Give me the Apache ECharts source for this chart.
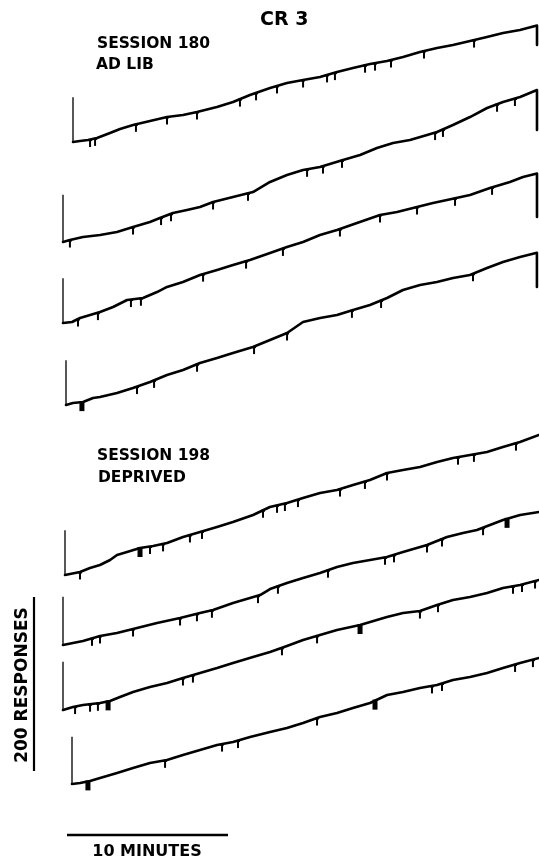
<!DOCTYPE html>
<html><head><meta charset="utf-8">
<script src="https://cdn.jsdelivr.net/npm/echarts@6/dist/echarts.min.js"></script>
<style>html,body{margin:0;padding:0;background:#fff}#c{width:539px;height:863px}</style>
</head><body><div id="c"></div>
<script>
// ---- DATA: cumulative records, [minutes, cumulative responses] ----
const curve1 = [[0,0],[0.43,1.2],[0.93,2.3],[1.49,4.7],[2.30,10.5],[2.92,15.1],[3.73,19.8],[4.78,24.4],[5.84,29.1],[6.83,31.4],[7.70,34.9],[8.94,40.7],[9.94,46.5],[10.99,54.7],[12.24,62.8],[13.29,68.6],[14.29,72.1],[15.34,75.6],[16.40,81.4],[17.39,86.0],[18.45,90.7],[19.50,94.2],[20.50,98.8],[21.55,104.7],[22.61,109.3],[23.60,112.8],[24.66,117.4],[25.71,122.1],[26.71,126.7],[27.76,130.2],[28.82,135.5],[28.82,112.8]];
const curve2 = [[0,0],[0.43,2.3],[1.24,5.8],[2.30,8.1],[3.35,11.6],[4.35,17.4],[5.40,23.3],[6.02,27.9],[6.83,33.7],[7.70,37.2],[8.51,40.7],[9.32,46.5],[10.56,52.3],[11.80,58.1],[12.86,69.8],[13.91,77.9],[14.91,83.7],[15.96,87.2],[17.39,95.3],[18.45,101.2],[19.50,109.3],[20.50,115.1],[21.55,118.6],[22.61,124.4],[23.23,127.9],[24.22,136.0],[25.28,145.3],[26.34,155.8],[27.33,162.8],[28.39,168.6],[29.44,176.7],[29.44,130.2]];
const curve3 = [[0,0],[0.56,1.2],[1.06,5.8],[1.68,9.3],[2.30,12.8],[3.11,18.6],[3.98,26.7],[4.97,29.1],[5.84,36.0],[6.46,41.9],[7.45,47.7],[8.51,55.8],[9.57,61.6],[10.56,67.4],[11.61,73.3],[12.86,81.4],[13.91,88.4],[14.91,94.2],[15.96,102.3],[17.02,108.1],[18.26,116.3],[19.69,125.6],[20.75,129.1],[21.74,133.7],[22.98,139.5],[23.85,143.0],[25.28,148.8],[26.52,157.0],[27.76,164.0],[28.57,169.8],[29.44,173.8],[29.44,123.3]];
const curve4 = [[0,0],[0.43,2.3],[1.06,3.5],[1.68,8.1],[2.11,9.3],[3.17,14.0],[4.16,19.8],[5.22,26.7],[6.27,34.9],[7.27,40.7],[8.32,48.8],[9.38,54.7],[10.37,60.5],[11.61,67.4],[12.67,75.6],[13.73,83.7],[14.72,96.5],[15.78,101.2],[16.83,104.7],[17.83,110.5],[18.88,116.3],[19.94,124.4],[20.93,133.7],[21.99,139.5],[23.04,143.0],[24.04,147.7],[25.09,151.2],[26.15,159.3],[27.14,166.3],[28.20,172.1],[29.25,177.0],[29.25,137.2]];
const curve5 = [[0,0],[0.12,1.2],[0.93,3.5],[1.55,8.1],[2.17,11.6],[2.80,17.4],[3.23,23.3],[3.85,26.7],[4.66,31.4],[5.47,33.7],[6.34,37.2],[7.33,44.2],[8.39,50.0],[9.44,55.8],[10.43,61.6],[11.68,69.8],[12.73,79.1],[13.79,83.7],[14.78,89.5],[15.84,95.3],[16.89,98.8],[17.89,104.7],[18.94,110.5],[20.00,118.6],[20.99,122.1],[22.05,125.6],[23.11,131.4],[24.10,136.0],[25.16,139.5],[26.21,143.0],[27.20,148.8],[28.26,154.7],[29.44,162.8]];
const curve6 = [[0,0],[0.62,2.3],[1.24,4.7],[2.30,10.5],[3.35,14.0],[4.35,18.6],[5.84,25.6],[7.27,31.4],[8.51,37.2],[9.32,40.7],[10.56,48.8],[12.24,58.1],[12.86,65.1],[13.91,72.1],[14.91,77.9],[15.96,83.7],[17.02,90.7],[18.01,95.3],[19.07,98.8],[20.12,102.3],[21.12,108.1],[22.61,116.3],[23.85,125.6],[24.84,130.2],[25.71,133.7],[26.52,139.5],[27.33,145.3],[28.39,151.2],[29.57,154.7]];
const curve7 = [[0,0],[0.62,3.5],[1.24,5.8],[2.30,8.1],[2.92,10.5],[3.54,15.1],[4.35,20.9],[5.40,26.7],[6.46,31.4],[7.45,37.2],[8.51,43.0],[9.57,48.8],[10.56,54.7],[11.80,61.6],[12.86,67.4],[13.91,74.4],[14.91,81.4],[15.96,87.2],[17.02,93.0],[18.45,98.8],[20.12,108.1],[21.12,112.8],[22.17,115.1],[23.23,122.1],[24.22,127.9],[25.28,131.4],[26.34,136.0],[27.33,141.9],[28.39,145.3],[29.57,151.2]];
const curve8 = [[0,0],[0.50,1.2],[1.12,3.5],[1.74,7.0],[2.80,12.8],[3.79,18.6],[4.84,24.4],[5.90,27.9],[6.89,33.7],[7.95,39.5],[9.01,45.3],[10.00,48.8],[11.06,54.7],[12.30,60.5],[13.35,65.1],[14.35,70.9],[15.40,77.9],[16.46,82.6],[17.45,88.4],[18.51,94.2],[19.57,103.5],[20.56,107.0],[21.61,111.6],[22.67,115.1],[23.66,120.9],[24.72,124.4],[25.78,129.1],[26.77,134.9],[27.83,140.7],[29.01,146.5]];

// reinforcement pips (minutes) and dense pip clusters (minutes)
const pips1 = [1.06,1.37,3.91,5.84,7.70,10.37,11.37,12.67,14.29,15.78,16.27,18.14,18.76,19.75,21.80,24.91];
const pips2 = [0.43,4.35,6.09,6.71,9.32,11.49,15.16,16.15,17.33,23.11,23.60,26.96,28.07];
const pips3 = [0.93,2.17,4.22,4.84,8.70,11.37,13.66,17.20,19.69,21.99,24.35,26.65];
const pips4 = [4.41,5.47,8.14,11.68,13.73,17.76,19.57,25.28];
const pips5 = [0.93,5.28,6.09,7.76,8.51,12.30,13.17,13.66,14.47,17.08,18.63,20.00,24.41,25.40,28.01];
const pips6 = [1.80,2.30,4.35,7.27,8.32,9.25,12.11,13.35,16.46,20.00,20.56,22.61,23.54,26.09];
const pips7 = [0.75,1.68,2.17,7.45,8.07,13.60,15.78,22.17,23.29,27.95,28.51,29.32];
const pips8 = [5.78,9.32,10.31,15.22,22.36,22.98,27.52,28.63];
const blocks1 = [];
const blocks2 = [];
const blocks3 = [];
const blocks4 = [0.99];
const blocks5 = [4.66];
const blocks6 = [27.58];
const blocks7 = [2.80,18.45];
const blocks8 = [0.99,18.82];

// height of the pen-reset stroke at the start of each record (responses)
const resetHeights = [52,55,52,52,52,56,56,55];

// ---- LAYOUT (pixel origin of each record) ----
const origins = [[73,142],[63,242],[63,323],[66,405],[65,575],[63,645],[63,710],[72,784]];
const X_MAX = 30, Y_MAX = 200, GRID_W = 483, GRID_H = 172;

const curves = [curve1,curve2,curve3,curve4,curve5,curve6,curve7,curve8];
const pips = [pips1,pips2,pips3,pips4,pips5,pips6,pips7,pips8];
const blocks = [blocks1,blocks2,blocks3,blocks4,blocks5,blocks6,blocks7,blocks8];

function onCurve(c, t){
  for (let k=0;k<c.length-1;k++){
    const a=c[k], b=c[k+1];
    if (b[0]>a[0] && t>=a[0] && t<=b[0]) return a[1]+(b[1]-a[1])*(t-a[0])/(b[0]-a[0]);
  }
  return c[c.length-1][1];
}

const grid=[], xAxis=[], yAxis=[], series=[];
curves.forEach((c,i)=>{
  grid.push({left:origins[i][0], top:origins[i][1]-GRID_H, width:GRID_W, height:GRID_H, outerBoundsMode:'none', containLabel:false});
  xAxis.push({type:'value', gridIndex:i, min:0, max:X_MAX, show:false});
  yAxis.push({type:'value', gridIndex:i, min:0, max:Y_MAX, show:false});
  series.push({type:'line', xAxisIndex:i, yAxisIndex:i, data:[[0,0],[0,resetHeights[i]]], showSymbol:false, clip:false, silent:true,
    lineStyle:{color:'#111', width:1.4}});
  series.push({type:'line', xAxisIndex:i, yAxisIndex:i, data:c, showSymbol:false, clip:false, silent:true,
    lineStyle:{color:'#000', width:2.6, join:'round', cap:'round'}});
  const pd = pips[i].map(t=>[t,0]).concat(blocks[i].map(t=>[t,1]));
  series.push({type:'custom', xAxisIndex:i, yAxisIndex:i, data:pd, clip:false, silent:true,
    renderItem:(params, api)=>{
      const t = api.value(0);
      const p = api.coord([t, onCurve(c, t)]);
      if (api.value(1)===1){
        return {type:'rect', shape:{x:p[0]-2.5, y:p[1]-1, width:5, height:10}, style:{fill:'#000'}};
      }
      return {type:'group', children:[
        {type:'line', shape:{x1:p[0], y1:p[1], x2:p[0], y2:p[1]+7.5}, style:{stroke:'#000', lineWidth:2}},
        {type:'line', shape:{x1:p[0]-2, y1:p[1]+0.5, x2:p[0]+2, y2:p[1]+0.5}, style:{stroke:'#000', lineWidth:2}}
      ]};
    }});
});

const FONT = '"DejaVu Sans", sans-serif';
function txt(text, x, y, size, extra){
  return Object.assign({type:'text', x:x, y:y, silent:true,
    style:{text:text, fill:'#000', font:'bold '+size+'px '+FONT, textAlign:'left', textVerticalAlign:'middle'}}, extra||{});
}
const graphic = [
  txt('CR 3', 260, 20, 19),
  txt('SESSION 180', 97, 43.5, 15.5),
  txt('AD LIB', 96, 65, 15.5),
  txt('SESSION 198', 97, 456, 15.5),
  txt('DEPRIVED', 98, 477.5, 15.5),
  {type:'text', x:23, y:685, rotation:Math.PI/2, silent:true,
    style:{text:'200 RESPONSES', fill:'#000', font:'bold 17px '+FONT, textAlign:'center', textVerticalAlign:'middle'}},
  {type:'line', silent:true, shape:{x1:34, y1:597, x2:34, y2:771}, style:{stroke:'#000', lineWidth:2.2}},
  {type:'line', silent:true, shape:{x1:67, y1:835, x2:228, y2:835}, style:{stroke:'#000', lineWidth:2.4}},
  {type:'text', x:147, y:852, silent:true,
    style:{text:'10 MINUTES', fill:'#000', font:'bold 16px '+FONT, textAlign:'center', textVerticalAlign:'middle'}}
];

const chart = echarts.init(document.getElementById('c'), null, {renderer:'canvas'});
chart.setOption({backgroundColor:'#fff', animation:false, grid, xAxis, yAxis, series, graphic});
</script></body></html>
